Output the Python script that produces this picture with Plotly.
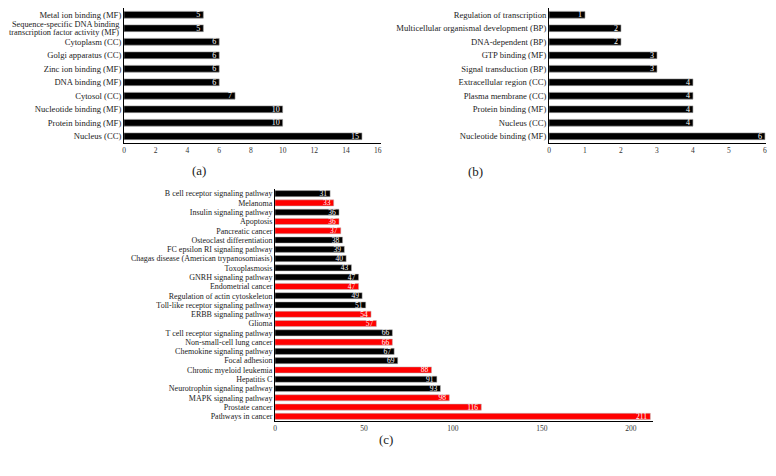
import plotly.graph_objects as go

# ---- Panel (a) data (top to bottom) ----
a_labels = ["Metal ion binding (MF)",
            "Sequence-specific DNA binding<br>transcription factor activity (MF)",
            "Cytoplasm (CC)", "Golgi apparatus (CC)", "Zinc ion binding (MF)",
            "DNA binding (MF)", "Cytosol (CC)", "Nucleotide binding (MF)",
            "Protein binding (MF)", "Nucleus (CC)"]
a_values = [5, 5, 6, 6, 6, 6, 7, 10, 10, 15]
a_ticks = [0, 2, 4, 6, 8, 10, 12, 14, 16]

# ---- Panel (b) data (top to bottom) ----
b_labels = ["Regulation of transcription", "Multicellular organismal development (BP)",
            "DNA-dependent (BP)", "GTP binding (MF)", "Signal transduction (BP)",
            "Extracellular region (CC)", "Plasma membrane (CC)", "Protein binding (MF)",
            "Nucleus (CC)", "Nucleotide binding (MF)"]
b_values = [1, 2, 2, 3, 3, 4, 4, 4, 4, 6]
b_ticks = [0, 1, 2, 3, 4, 5, 6]

# ---- Panel (c) data (top to bottom) ----
c_labels = ["B cell receptor signaling pathway", "Melanoma", "Insulin signaling pathway",
            "Apoptosis", "Pancreatic cancer", "Osteoclast differentiation",
            "FC epsilon RI signaling pathway", "Chagas disease (American trypanosomiasis)",
            "Toxoplasmosis", "GNRH signaling pathway", "Endometrial cancer",
            "Regulation of actin cytoskeleton", "Toll-like receptor signaling pathway",
            "ERBB signaling pathway", "Glioma", "T cell receptor signaling pathway",
            "Non-small-cell lung cancer", "Chemokine signaling pathway", "Focal adhesion",
            "Chronic myeloid leukemia", "Hepatitis C", "Neurotrophin signaling pathway",
            "MAPK signaling pathway", "Prostate cancer", "Pathways in cancer"]
c_values = [31, 33, 36, 36, 37, 38, 39, 40, 43, 47, 47, 49, 51, 54, 57,
            66, 66, 67, 69, 88, 91, 93, 98, 116, 211]
c_group = ["k", "r", "k", "r", "r", "k", "k", "k", "k", "k", "r", "k", "k", "r", "r",
           "k", "r", "k", "k", "r", "k", "k", "r", "r", "r"]
c_ticks = [0, 50, 100, 150, 200]

# page body has an 8px margin, so the figure starts at (8, 8) in the window
OFF = 8
W, H = 776 - OFF, 476 - OFF
FONT = "Liberation Serif"
color_map = {"k": "#000000", "r": "#ff0000"}


def px_x(p):
    return (p - OFF) / W


def px_y(p):
    return 1 - (p - OFF) / H


fig = go.Figure()

fig.add_trace(go.Bar(x=a_values, y=a_labels, orientation="h", xaxis="x", yaxis="y",
                     marker=dict(color="#000000", line=dict(color="#9a9a9a", width=0.6)),
                     width=0.5, text=[str(v) for v in a_values], textposition="inside",
                     insidetextanchor="end", constraintext="none", textangle=0,
                     textfont=dict(family=FONT, size=8, color="white"),
                     hoverinfo="skip", showlegend=False))

fig.add_trace(go.Bar(x=b_values, y=b_labels, orientation="h", xaxis="x2", yaxis="y2",
                     marker=dict(color="#000000", line=dict(color="#9a9a9a", width=0.6)),
                     width=0.5, text=[str(v) for v in b_values], textposition="inside",
                     insidetextanchor="end", constraintext="none", textangle=0,
                     textfont=dict(family=FONT, size=8, color="white"),
                     hoverinfo="skip", showlegend=False))

fig.add_trace(go.Bar(x=c_values, y=c_labels, orientation="h", xaxis="x3", yaxis="y3",
                     marker=dict(color=[color_map[g] for g in c_group],
                                 line=dict(color="#bbbbbb", width=0.5)),
                     width=0.66, text=[str(v) for v in c_values], textposition="inside",
                     insidetextanchor="end", constraintext="none", textangle=0,
                     textfont=dict(family=FONT, size=7.5, color="white"),
                     hoverinfo="skip", showlegend=False))

tickfont_y = dict(family=FONT, size=8.6, color="#222")
tickfont_x = dict(family=FONT, size=7.5, color="#333")
common_x = dict(showgrid=False, zeroline=False, showline=True, linecolor="#000",
                linewidth=1, ticks="", tickfont=tickfont_x, automargin=False)
common_y = dict(showgrid=False, zeroline=False, showline=True, linecolor="#000",
                linewidth=1, ticks="", autorange="reversed", type="category",
                automargin=False)

# two-line label of panel (a): draw its lines as annotations with tight spacing
a_ticktext = [("" if "<br>" in s else s) for s in a_labels]
annots = []
for lab in a_labels:
    if "<br>" in lab:
        lines = lab.split("<br>")
        n = len(lines)
        for i, ln in enumerate(lines):
            annots.append(dict(text=ln, x=px_x(120), xref="paper", y=lab, yref="y",
                               xanchor="right", yanchor="middle", showarrow=False,
                               borderpad=0, yshift=(n - 1) * 4.2 - i * 8.4,
                               font=dict(family=FONT, size=8.3, color="#222")))

annots += [
    dict(text="(a)", x=px_x(190), y=px_y(170), xref="paper", yref="paper",
         showarrow=False, font=dict(family=FONT, size=13, color="#222")),
    dict(text="(b)", x=px_x(475), y=px_y(171), xref="paper", yref="paper",
         showarrow=False, font=dict(family=FONT, size=13, color="#222")),
    dict(text="(c)", x=px_x(386), y=px_y(449), xref="paper", yref="paper",
         showarrow=False, font=dict(family=FONT, size=13, color="#222")),
]

fig.update_layout(
    width=W, height=H, margin=dict(l=0, r=0, t=0, b=0),
    paper_bgcolor="white", plot_bgcolor="white",
    font=dict(family=FONT),
    xaxis=dict(domain=[px_x(124), px_x(381)], range=[0, 16.2], tickvals=a_ticks,
               anchor="y", **common_x),
    yaxis=dict(domain=[px_y(143), px_y(8)], anchor="x", tickfont=tickfont_y,
               tickmode="array", tickvals=a_labels, ticktext=a_ticktext, **common_y),
    xaxis2=dict(domain=[px_x(549), px_x(766)], range=[0, 6.03], tickvals=b_ticks,
                anchor="y2", **common_x),
    yaxis2=dict(domain=[px_y(143), px_y(8)], anchor="x2", tickfont=tickfont_y,
                tickmode="linear", dtick=1, **common_y),
    xaxis3=dict(domain=[px_x(275), px_x(653)], range=[0, 212.5], tickvals=c_ticks,
                anchor="y3", **common_x),
    yaxis3=dict(domain=[px_y(421), px_y(189)], anchor="x3",
                tickfont=dict(family=FONT, size=8, color="#222"),
                tickmode="linear", dtick=1, **common_y),
    annotations=annots,
)

fig.write_html("out.html")
